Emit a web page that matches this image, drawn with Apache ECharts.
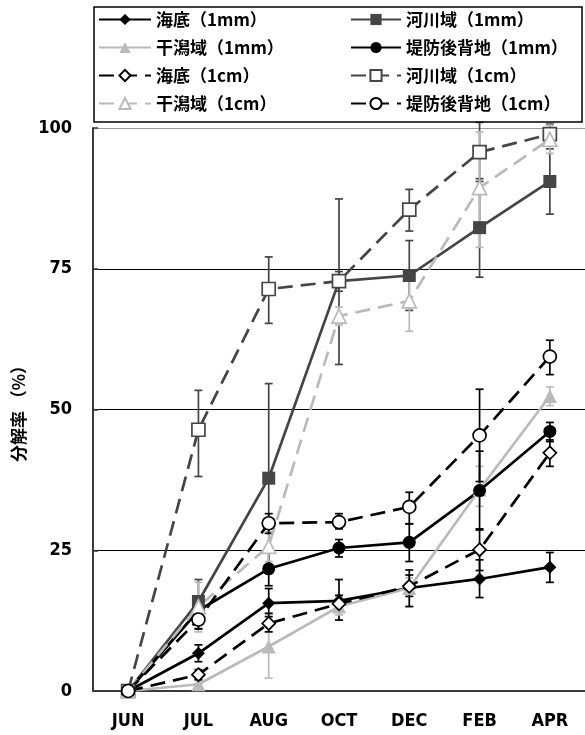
<!DOCTYPE html>
<html><head><meta charset="utf-8">
<script src="https://cdn.jsdelivr.net/npm/echarts@6/dist/echarts.min.js"></script>
<style>html,body{margin:0;padding:0;background:#fff}#c{width:585px;height:735px}</style>
</head><body><div id="c"></div><script>
const categories = ['JUN','JUL','AUG','OCT','DEC','FEB','APR'];
const yTicks = [0, 25, 50, 75, 100];

const kaitei1mm   = [0, 6.7, 15.6, 16.0, 18.3, 19.9, 22.0];
const kaitei1mmLo = [null, 5.2, 13.2, 12.6, 16.8, 16.6, 19.3];
const kaitei1mmHi = [null, 8.2, 18.2, 19.8, 20.6, 23.3, 24.6];

const kasen1mm   = [0, 15.9, 37.8, 72.8, 73.8, 82.3, 90.5];
const kasen1mmLo = [null, 11.1, 21.0, 58.0, 67.6, 73.5, 84.7];
const kasen1mmHi = [null, 19.8, 54.6, 87.4, 80.0, 91.0, 96.3];

const higata1mm   = [0, 1.2, 7.9, 15.0, 18.3, 35.8, 52.4];
const higata1mmLo = [null, 0.5, 2.3, 13.5, 15.0, 32.8, 50.7];
const higata1mmHi = [null, 2.0, 13.5, 16.8, 20.1, 39.9, 54.0];

const teibo1mm   = [0, 14.3, 21.7, 25.4, 26.4, 35.6, 46.1];
const teibo1mmLo = [null, 12.5, 18.7, 23.8, 23.0, 28.6, 44.3];
const teibo1mmHi = [null, 16.0, 24.8, 26.9, 29.7, 42.6, 47.7];

const kaitei1cm   = [0, 2.9, 12.0, 15.5, 18.6, 25.1, 42.3];
const kaitei1cmLo = [null, 2.0, 10.5, 14.0, 15.0, 21.4, 39.9];
const kaitei1cmHi = [null, 3.8, 13.8, 17.0, 21.5, 28.8, 44.6];

const kasen1cm   = [0, 46.4, 71.4, 72.8, 85.5, 95.7, 98.9];
const kasen1cmLo = [null, 38.1, 65.3, 71.0, 81.7, 90.5, 97.0];
const kasen1cmHi = [null, 53.4, 77.1, 74.5, 89.1, 101.0, 100.7];

const higata1cm   = [0, 15.0, 25.7, 66.6, 69.3, 89.4, 98.0];
const higata1cmLo = [null, 10.5, 23.0, 65.0, 63.9, 78.8, 95.5];
const higata1cmHi = [null, 19.3, 28.3, 68.2, 74.7, 99.3, 100.5];

const teibo1cm   = [0, 12.7, 29.8, 30.0, 32.7, 45.4, 59.4];
const teibo1cmLo = [null, 11.0, 28.0, 28.8, 29.7, 37.2, 56.2];
const teibo1cmHi = [null, 14.5, 31.5, 31.5, 35.3, 53.6, 62.3];

const BLACK = '#000000', DARK = '#454545', LIGHT = '#bababa';
const LABEL_FONT = "'Liberation Sans Narrow','DejaVu Sans Condensed','Liberation Sans',Arial,sans-serif";
const CJK_FONT = "'Noto Sans CJK JP','Noto Sans CJK SC',sans-serif";

const defs = [
  {name:'海底（1mm）', data:kaitei1mm, lo:kaitei1mmLo, hi:kaitei1mmHi, color:BLACK, symbol:'diamond', open:false, dashed:false},
  {name:'河川域（1mm）', data:kasen1mm, lo:kasen1mmLo, hi:kasen1mmHi, color:DARK, symbol:'rect', open:false, dashed:false},
  {name:'干潟域（1mm）', data:higata1mm, lo:higata1mmLo, hi:higata1mmHi, color:LIGHT, symbol:'triangle', open:false, dashed:false},
  {name:'堤防後背地（1mm）', data:teibo1mm, lo:teibo1mmLo, hi:teibo1mmHi, color:BLACK, symbol:'circle', open:false, dashed:false},
  {name:'海底（1cm）', data:kaitei1cm, lo:kaitei1cmLo, hi:kaitei1cmHi, color:BLACK, symbol:'diamond', open:true, dashed:true},
  {name:'河川域（1cm）', data:kasen1cm, lo:kasen1cmLo, hi:kasen1cmHi, color:DARK, symbol:'rect', open:true, dashed:true},
  {name:'干潟域（1cm）', data:higata1cm, lo:higata1cmLo, hi:higata1cmHi, color:LIGHT, symbol:'triangle', open:true, dashed:true},
  {name:'堤防後背地（1cm）', data:teibo1cm, lo:teibo1cmLo, hi:teibo1cmHi, color:BLACK, symbol:'circle', open:true, dashed:true}
];

function errRender(color){
  return function(params, api){
    const x = api.value(0), lo = api.value(1), hi = api.value(2);
    const p1 = api.coord([x, hi]), p2 = api.coord([x, lo]);
    const w = 4;
    const style = {stroke: color, lineWidth: 1.7, fill: null};
    return {type:'group', children:[
      {type:'line', shape:{x1:p1[0], y1:p1[1], x2:p2[0], y2:p2[1]}, style: style},
      {type:'line', shape:{x1:p1[0]-w, y1:p1[1], x2:p1[0]+w, y2:p1[1]}, style: style},
      {type:'line', shape:{x1:p2[0]-w, y1:p2[1], x2:p2[0]+w, y2:p2[1]}, style: style}
    ]};
  };
}

const series = [];
defs.forEach(function(d){
  const errData = [];
  d.lo.forEach(function(v, i){ if (v != null) errData.push([i, v, d.hi[i]]); });
  series.push({
    name: d.name + '_err', type:'custom', renderItem: errRender(d.color),
    data: errData, encode:{x:0, y:[1,2]}, z:1, silent:true, clip:false
  });
});
defs.forEach(function(d){
  series.push({
    name: d.name, type:'line', data: d.data, z: 3,
    symbol: d.symbol, symbolSize: d.symbol === 'triangle' ? 14 : 13,
    showAllSymbol: true,
    lineStyle: {color: d.color, width: 2.7, type: d.dashed ? [15, 8] : 'solid'},
    itemStyle: {color: d.open ? '#ffffff' : d.color, borderColor: d.color, borderWidth: d.open ? 1.7 : 0},
    emphasis: {disabled: true}
  });
});

const legendText = {fontFamily: CJK_FONT, fontWeight: 'bold', fontSize: 17, color: '#000'};
const option = {
  animation: false,
  backgroundColor: '#ffffff',
  graphic: [{type:'rect', shape:{x:94, y:7, width:488, height:115}, style:{fill:null, stroke:'#000', lineWidth:1.5}, z:10}],
  legend: [
    {left: 98, top: 11, padding: 0, orient:'vertical', itemWidth: 52, itemHeight: 14, itemGap: 11,
     data: ['海底（1mm）','干潟域（1mm）','海底（1cm）','干潟域（1cm）'], textStyle: legendText},
    {left: 350, top: 11, padding: 0, orient:'vertical', itemWidth: 50, itemHeight: 14, itemGap: 11,
     data: ['河川域（1mm）','堤防後背地（1mm）','河川域（1cm）','堤防後背地（1cm）'], textStyle: legendText}
  ],
  grid: {left: 93, top: 128, width: 499, height: 563, containLabel: false},
  xAxis: {
    type: 'category', data: categories, boundaryGap: true,
    axisLine: {lineStyle: {color: '#3a3a3a', width: 2}},
    axisTick: {inside: true, length: 6, lineStyle: {color: '#3a3a3a', width: 1.5}},
    axisLabel: {margin: 21, color: '#000', fontWeight: 'bold', fontSize: 18, fontFamily: LABEL_FONT},
    splitLine: {show: false}
  },
  yAxis: {
    type: 'value', min: 0, max: 100, interval: 25,
    name: '分解率 （%）', nameLocation: 'middle', nameGap: 66, nameRotate: 90,
    nameTextStyle: {fontFamily: CJK_FONT, fontWeight: 'bold', fontSize: 17, color: '#000'},
    axisLine: {show: true, lineStyle: {color: '#3a3a3a', width: 2}},
    axisTick: {show: true, inside: true, length: 5, lineStyle: {color: '#3a3a3a', width: 1.5}},
    axisLabel: {margin: 21, color: '#000', fontWeight: 'bold', fontSize: 18, fontFamily: LABEL_FONT,
      formatter: function(v){ return yTicks.indexOf(v) >= 0 ? String(v) : ''; }},
    splitLine: {show: true, lineStyle: {color: ['#000','#000','#000','#000','#9a9a9a'], width: 1.2}}
  },
  series: series
};
const chart = echarts.init(document.getElementById('c'));
chart.setOption(option);
</script></body></html>
